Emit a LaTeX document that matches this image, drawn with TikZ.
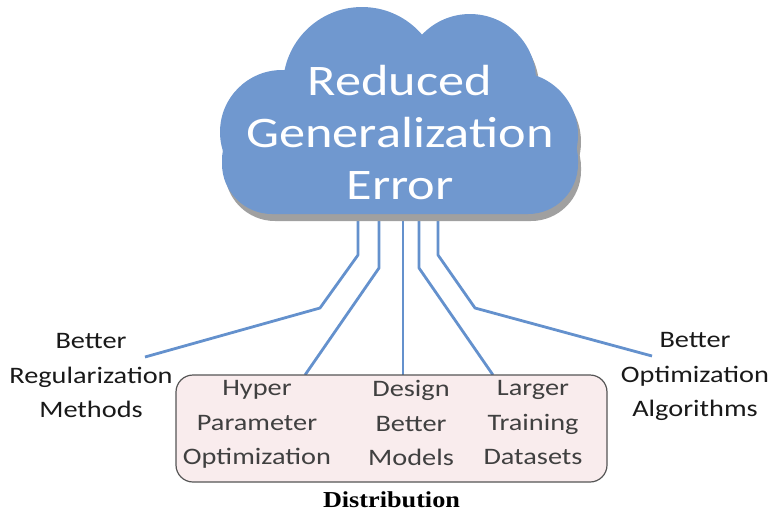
\documentclass[tikz,border=0pt]{standalone}
\usepackage{fontspec}
\setmainfont{Carlito}[FakeStretch=1.2]
\newfontfamily\chuden{Liberation Serif}[FakeStretch=1.15]
\usepackage{xcolor}
\usepackage{tikz}
\usetikzlibrary{positioning}

\definecolor{mayxanh}{RGB}{112,152,207}
\definecolor{bongmay}{RGB}{160,160,160}
\definecolor{duongnoi}{RGB}{100,145,205}
\definecolor{nenhop}{RGB}{249,236,237}
\definecolor{vienhop}{RGB}{85,85,85}

\tikzset{
    link/.style={draw=duongnoi, line width=1.4pt},
    nhan/.style={align=center, inner sep=0pt, anchor=north, text=black!90,
        font=\fontsize{11.8}{17.25}\selectfont},
    nhanhop/.style={nhan, text=black!75},
    hopphanbo/.style={draw=vienhop, fill=nenhop, line width=0.6pt,
        rounded corners=8.5pt, inner sep=0pt}
}

\begin{document}
\begin{tikzpicture}[x=0.5pt, y=-0.5pt, line join=round]
    \useasboundingbox (0,0) rectangle (777,511);

    % Các điểm nối dưới đám mây
    \foreach \n/\x in {1/358,2/379,3/403,4/419,5/438}
        \coordinate (s\n) at (\x,200);
    \coordinate (e1) at (145,357);
    \coordinate (e2) at (305,375);
    \coordinate (e3) at (403,376);
    \coordinate (e4) at (493,375);
    \coordinate (e5) at (652,356);

    % Đường nối
    \draw[link] (s1) -- ++(0,55) -- ++(-38,53) -- (e1);
    \draw[link] (s2) -- ++(0,68) -- (e2);
    \draw[link] (s3) -- (e3);
    \draw[link] (s4) -- ++(0,68) -- (e4);
    \draw[link] (s5) -- ++(0,55) -- ++(37,53) -- (e5);

    % Bóng và đám mây
    \foreach \dx/\dy/\mau in {3/7/bongmay, 0/0/mayxanh} {
        \begin{scope}[shift={(\dx,\dy)}]
            \fill[\mau, rounded corners=25pt] (222,110) rectangle (578,214);
            \fill[\mau] (282,132) circle [radius=62];
            \fill[\mau] (362,86) circle [radius=79];
            \fill[\mau] (470,80) circle [radius=66];
            \fill[\mau] (515,135) circle [radius=63];
        \end{scope}
    }
    \node[align=center, inner sep=0pt, anchor=north, text=white,
        font=\fontsize{21.8}{26}\selectfont] (err) at (400,65)
        {Reduced\\Generalization\\Error};

    % Hai nhãn hai bên
    \node[nhan] (reg) at (91,333) {Better\\Regularization\\Methods};
    \node[nhan] (opt) at (695,332) {Better\\Optimization\\Algorithms};

    % Hộp phân bố
    \node[hopphanbo, minimum width=215.5pt, minimum height=53.5pt] (box)
        at (391.5,428.5) {};
    \node[nhanhop] (hpo) at (257,380) {Hyper\\Parameter\\Optimization};
    \node[nhanhop] (dbm) at (411,380) {Design\\Better\\Models};
    \node[nhanhop] (ltd) at (533,380) {Larger\\Training\\Datasets};
    \node[below=4.5pt of box, inner sep=0pt,
        font=\chuden\bfseries\fontsize{11.4}{13}\selectfont] (dist)
        {Distribution};
\end{tikzpicture}
\end{document}
